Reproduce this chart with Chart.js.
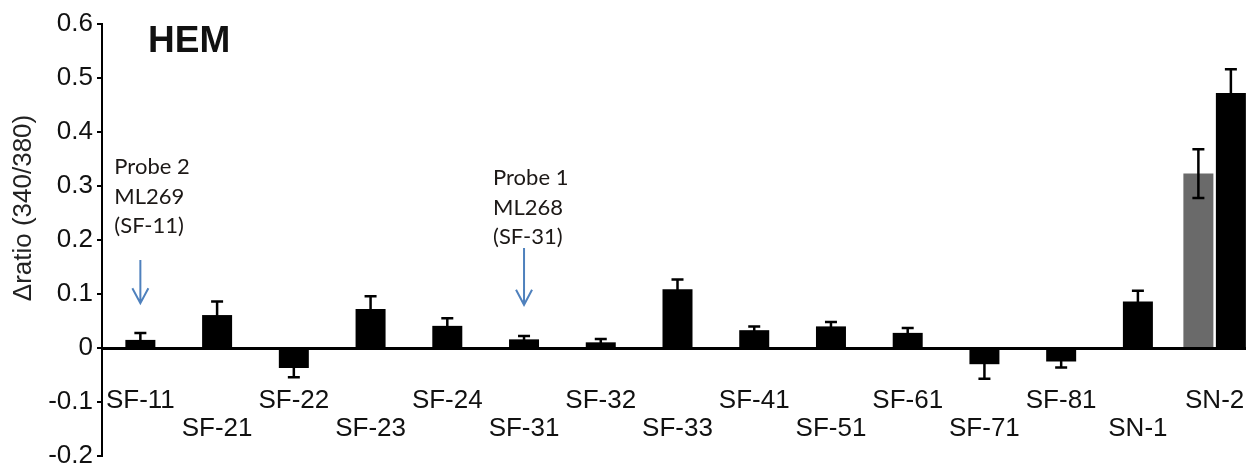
<!DOCTYPE html>
<html>
<head>
<meta charset="utf-8">
<script src="https://cdn.jsdelivr.net/npm/chart.js@4.4.1/dist/chart.umd.min.js"></script>
<style>
  html, body { margin: 0; padding: 0; background: #fff; overflow: hidden; }
  #wrap { width: 1253px; height: 468px; }
</style>
</head>
<body>
<div id="wrap"><canvas id="c" width="1253" height="468"></canvas></div>
<script>
// ---- data ----
const categories = ['SF-11','SF-21','SF-22','SF-23','SF-24','SF-31','SF-32','SF-33','SF-41','SF-51','SF-61','SF-71','SF-81','SN-1','SN-2'];
const blackValues = [0.015, 0.061, -0.037, 0.072, 0.041, 0.016, 0.0105, 0.109, 0.033, 0.040, 0.028, -0.030, -0.025, 0.086, 0.472];
const blackErrors = [0.013, 0.025, 0.017, 0.024, 0.014, 0.006, 0.006, 0.018, 0.007, 0.008, 0.009, 0.027, 0.011, 0.020, 0.044];
const grayValues  = [null, null, null, null, null, null, null, null, null, null, null, null, null, null, 0.323];
const grayErrors  = [null, null, null, null, null, null, null, null, null, null, null, null, null, null, 0.045];
const yMin = -0.2, yMax = 0.6, yStep = 0.1;
const chartTitle = 'HEM';
const yAxisTitle = 'Δratio (340/380)';
const probeNotes = [
  { category: 'SF-11', lines: ['Probe 2', 'ML269', '(SF-11)'], arrowFrom: 0.163, arrowTo: 0.083 },
  { category: 'SF-31', lines: ['Probe 1', 'ML268', '(SF-31)'], arrowFrom: 0.185, arrowTo: 0.080 }
];

const errorBars = {
  id: 'errorBars',
  afterDatasetsDraw(chart) {
    const ctx = chart.ctx, ys = chart.scales.y;
    chart.data.datasets.forEach((ds, di) => {
      const meta = chart.getDatasetMeta(di);
      meta.data.forEach((bar, i) => {
        const v = ds.data[i], e = ds.errors[i];
        if (v == null || e == null) return;
        const t = ys.getPixelForValue(v + e), b = ys.getPixelForValue(v - e);
        ctx.save();
        ctx.strokeStyle = '#000';
        ctx.lineWidth = 2.5;
        ctx.beginPath();
        ctx.moveTo(bar.x, t); ctx.lineTo(bar.x, b);
        ctx.moveTo(bar.x - 6, t); ctx.lineTo(bar.x + 6, t);
        ctx.moveTo(bar.x - 6, b); ctx.lineTo(bar.x + 6, b);
        ctx.stroke();
        ctx.restore();
      });
    });
  }
};

const notes = {
  id: 'notes',
  afterDraw(chart) {
    const ctx = chart.ctx, xs = chart.scales.x, ys = chart.scales.y;
    ctx.save();
    // panel title
    ctx.fillStyle = '#111';
    ctx.font = 'bold 37px "Liberation Sans", Arial, sans-serif';
    ctx.textAlign = 'left';
    ctx.textBaseline = 'alphabetic';
    ctx.fillText(chartTitle, 148, 52);
    // y axis title
    ctx.save();
    ctx.translate(24, 208);
    ctx.rotate(-Math.PI / 2);
    ctx.font = '26px "Liberation Sans", Arial, sans-serif';
    ctx.textAlign = 'center';
    ctx.textBaseline = 'middle';
    ctx.fillStyle = '#222';
    ctx.fillText(yAxisTitle, 0, 0);
    ctx.restore();
    // probe notes with arrows
    const layout = [ { dx: -26, y0: 167 }, { dx: -31, y0: 178 } ];
    probeNotes.forEach((n, k) => {
      const x = xs.getPixelForValue(categories.indexOf(n.category));
      const top = ys.getPixelForValue(n.arrowFrom);
      const tip = ys.getPixelForValue(n.arrowTo);
      ctx.fillStyle = '#1c1816';
      ctx.font = '22px Lato, "Open Sans", sans-serif';
      ctx.textAlign = 'left';
      ctx.textBaseline = 'middle';
      n.lines.forEach((ln, j) => ctx.fillText(ln, x + layout[k].dx, layout[k].y0 + j * 29.5));
      ctx.strokeStyle = '#4f81bd';
      ctx.lineWidth = 2;
      ctx.beginPath();
      ctx.moveTo(x, top); ctx.lineTo(x, tip);
      ctx.moveTo(x - 8, tip - 15); ctx.lineTo(x, tip); ctx.lineTo(x + 8, tip - 15);
      ctx.stroke();
    });
    ctx.restore();
  }
};

new Chart(document.getElementById('c'), {
  type: 'bar',
  data: {
    labels: categories,
    datasets: [
      { label: 'gray', data: grayValues, errors: grayErrors, backgroundColor: '#6a6a6a', borderWidth: 0, skipNull: true },
      { label: 'black', data: blackValues, errors: blackErrors, backgroundColor: '#000', borderWidth: 0, skipNull: true }
    ]
  },
  options: {
    responsive: false,
    animation: false,
    devicePixelRatio: 1,
    layout: { padding: { top: 24, bottom: 12, left: 0, right: 0 } },
    datasets: { bar: { categoryPercentage: 0.847, barPercentage: 0.93, maxBarThickness: 30 } },
    plugins: { legend: { display: false }, tooltip: { enabled: false }, title: { display: false } },
    scales: {
      x: {
        type: 'category',
        position: { y: 0 },
        offset: true,
        grid: { display: false, drawTicks: false, tickLength: 0 },
        border: { display: true, color: '#000', width: 3, z: 1 },
        ticks: {
          autoSkip: false, maxRotation: 0, minRotation: 0, padding: 39,
          color: '#111',
          font: { family: '"Liberation Sans", Arial, sans-serif', size: 26, lineHeight: 1.08 },
          callback: (v, i) => (i % 2 ? ['', categories[i]] : categories[i])
        },
        afterFit: (s) => { s.paddingLeft = 0; s.paddingRight = 0; s.paddingTop = 0; s.paddingBottom = 0; }
      },
      y: {
        min: yMin, max: yMax,
        grid: { display: true, drawOnChartArea: false, drawTicks: true, tickLength: 5, color: '#000', lineWidth: 2 },
        border: { display: true, color: '#000', width: 2 },
        ticks: {
          stepSize: yStep, padding: 4, color: '#111',
          font: { family: '"Liberation Sans", Arial, sans-serif', size: 26, lineHeight: 0.9 },
          callback: (v) => String(Number(Number(v).toFixed(1)))
        },
        afterFit: (s) => { s.width = 102; s.paddingTop = 0; s.paddingBottom = 0; }
      }
    }
  },
  plugins: [errorBars, notes]
});
</script>
</body>
</html>
